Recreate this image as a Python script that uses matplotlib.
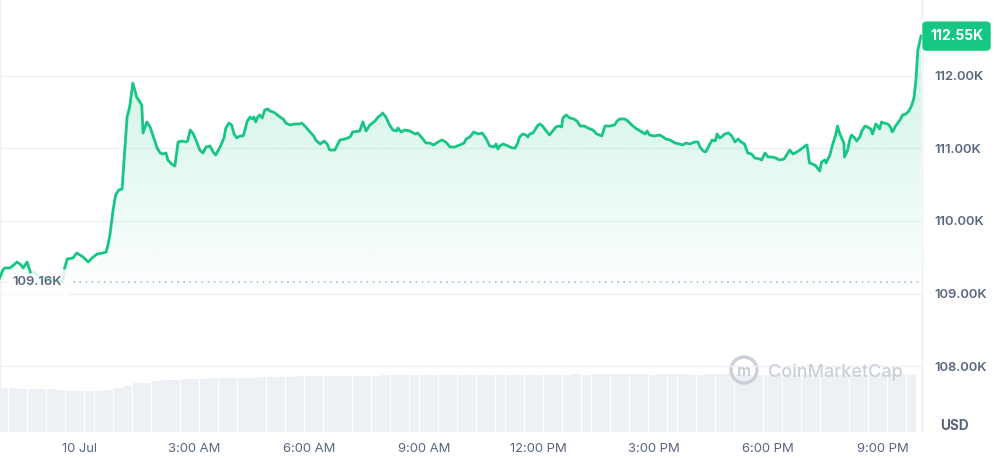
import numpy as np
import matplotlib.pyplot as plt
from matplotlib.patches import Circle
from matplotlib.colors import to_rgb
import matplotlib.transforms as mtransforms

plt.rcParams['font.family'] = ['Inter', 'DejaVu Sans']

# Price data: minutes from 10 Jul 00:00, price in USD
minutes = [
    -126, -121, -118, -110, -104, -99, -94, -89, -83, -78,
    -71, -63, -47, -31, -27, -24, -20, -11, -5, 0,
    5, 13, 19, 27, 36, 41, 44, 47, 52, 56,
    61, 66, 74, 78, 83, 89, 94, 97, 99, 105,
    110, 118, 121, 126, 130, 135, 138, 144, 149, 154,
    160, 166, 169, 173, 177, 182, 188, 193, 198, 204,
    209, 213, 220, 226, 229, 234, 238, 242, 246, 251,
    256, 259, 262, 267, 270, 273, 276, 279, 282, 286,
    290, 295, 298, 303, 306, 314, 319, 323, 330, 337,
    345, 348, 353, 361, 367, 370, 377, 383, 388, 392,
    400, 408, 416, 424, 428, 439, 444, 449, 455, 463,
    468, 474, 475, 480, 486, 491, 497, 499, 504, 510,
    518, 526, 530, 537, 543, 549, 555, 562, 568, 574,
    581, 588, 596, 603, 606, 612, 618, 625, 631, 637,
    643, 650, 653, 656, 659, 664, 672, 678, 683, 687,
    690, 695, 700, 703, 706, 711, 714, 719, 722, 726,
    733, 737, 742, 747, 752, 756, 758, 763, 769, 775,
    780, 785, 792, 797, 805, 811, 819, 824, 832, 839,
    843, 847, 855, 860, 866, 874, 882, 887, 890, 894,
    902, 910, 915, 920, 926, 934, 941, 946, 951, 957,
    965, 970, 973, 978, 982, 987, 992, 997, 1000, 1004,
    1007, 1012, 1018, 1023, 1028, 1033, 1036, 1040, 1043, 1048,
    1054, 1059, 1067, 1070, 1075, 1080, 1086, 1092, 1098, 1105,
    1109, 1114, 1119, 1125, 1130, 1134, 1138, 1141, 1145, 1150,
    1155, 1161, 1164, 1169, 1171, 1177, 1181, 1186, 1189, 1192,
    1199, 1200, 1205, 1208, 1211, 1216, 1219, 1224, 1227, 1232,
    1236, 1241, 1244, 1249, 1252, 1255, 1258, 1261, 1268, 1272,
    1275, 1280, 1287, 1291, 1296, 1301, 1305, 1309, 1312, 1315,
    1320,
]
prices = [
    109214, 109324, 109352, 109352, 109393, 109434, 109407, 109352, 109434, 109297,
    109283, 109228, 109200, 109172, 109159, 109352, 109476, 109490, 109559, 109531,
    109503, 109434, 109490, 109545, 109559, 109572, 109669, 109807, 110152, 110359,
    110428, 110441, 111434, 111572, 111903, 111710, 111641, 111600, 111214, 111366,
    111297, 111090, 111007, 110938, 110924, 110938, 110841, 110786, 110759, 111090,
    111103, 111090, 111103, 111255, 111214, 111117, 110979, 110938, 111021, 111034,
    110952, 110910, 111021, 111145, 111283, 111352, 111324, 111200, 111145, 111172,
    111172, 111255, 111366, 111434, 111407, 111434, 111366, 111434, 111462, 111421,
    111531, 111545, 111517, 111503, 111490, 111434, 111407, 111352, 111324, 111338,
    111338, 111352, 111310, 111228, 111172, 111117, 111062, 111103, 111062, 110979,
    110979, 111117, 111131, 111159, 111228, 111241, 111366, 111241, 111324, 111379,
    111434, 111476, 111490, 111434, 111324, 111255, 111241, 111283, 111228, 111255,
    111241, 111200, 111214, 111145, 111076, 111076, 111048, 111090, 111117, 111090,
    111021, 111021, 111048, 111076, 111131, 111159, 111228, 111200, 111214, 111145,
    111034, 111021, 111062, 110993, 111034, 111062, 111034, 111007, 111007, 111076,
    111159, 111200, 111186, 111159, 111200, 111214, 111255, 111324, 111338, 111310,
    111228, 111186, 111241, 111297, 111310, 111297, 111421, 111462, 111421, 111407,
    111379, 111310, 111310, 111283, 111255, 111200, 111172, 111310, 111310, 111324,
    111379, 111407, 111407, 111379, 111324, 111269, 111228, 111200, 111241, 111186,
    111172, 111186, 111159, 111131, 111117, 111076, 111062, 111048, 111076, 111062,
    111090, 111090, 111021, 110966, 110952, 111034, 111117, 111103, 111200, 111145,
    111159, 111200, 111214, 111172, 111090, 111131, 111103, 111076, 111062, 110938,
    110924, 110869, 110855, 110841, 110938, 110883, 110883, 110869, 110841, 110855,
    110910, 110979, 110924, 110952, 110979, 111007, 111034, 111048, 110800, 110786,
    110759, 110690, 110814, 110841, 110800, 110910, 111048, 111186, 111310, 111214,
    111076, 110883, 110979, 111117, 111186, 111145, 111103, 111159, 111241, 111310,
    111297, 111269, 111200, 111338, 111310, 111269, 111366, 111352, 111338, 111297,
    111228, 111310, 111393, 111462, 111476, 111517, 111586, 111697, 111945, 112359,
    112550,
]
# stretch drawn faint (under the open-price label)
faint_from, faint_to = -78, -24
open_price = 109160

# 24h volume bars, billions USD, every 15 min
vol_minutes = list(range(-120, 1320, 15))
volumes = [
    44.3, 44.3, 44.2, 44.0, 43.6, 43.5, 43.0, 42.2, 42.0, 42.0,
    42.1, 42.3, 44.5, 46.5, 49.8, 50.2, 51.5, 52.6, 53.2, 53.8,
    54.0, 54.3, 54.6, 54.8, 55.0, 55.2, 55.4, 55.7, 56.0, 56.2,
    56.5, 56.7, 56.8, 56.9, 56.9, 57.0, 57.0, 57.1, 57.3, 57.4,
    57.6, 57.7, 57.8, 57.9, 58.0, 58.0, 58.0, 58.1, 58.2, 58.3,
    58.1, 57.9, 58.0, 58.2, 58.3, 58.4, 58.4, 58.5, 58.4, 58.5,
    58.6, 58.5, 58.7, 58.8, 58.8, 58.7, 58.6, 58.6, 58.5, 58.6,
    58.7, 58.6, 58.5, 58.5, 58.6, 58.6, 58.7, 58.6, 58.5, 58.4,
    58.5, 58.6, 58.6, 58.5, 58.4, 58.5, 58.6, 58.6, 58.7, 58.6,
    58.5, 58.6, 58.7, 58.7, 58.6, 58.5,
]

tick_minutes = [0, 180, 360, 540, 720, 900, 1080, 1260]
tick_labels = ['10 Jul', '3:00 AM', '6:00 AM', '9:00 AM', '12:00 PM', '3:00 PM', '6:00 PM', '9:00 PM']
price_ticks = [108000, 109000, 110000, 111000, 112000]

green = '#16c784'
grey_text = '#58667e'
grid_c = '#eff2f5'

fig = plt.figure(figsize=(9.95, 4.58), dpi=100)
rect = [0.0, 0.0568, 0.9266, 0.9432]
vax = fig.add_axes(rect)
ax = fig.add_axes(rect, sharex=vax)
ax.set_zorder(2)
ax.patch.set_visible(False)

# Volume
vax.bar(vol_minutes, volumes, width=14.2, color='#edf0f4', linewidth=0)
vax.set_ylim(0, 440)
vax.axis('off')

x = np.array(minutes)
y = np.array(prices)

# Gradient fill under the line
poly = ax.fill_between(x, y, 108900, color='none', linewidth=0)
rgb = to_rgb(green)
alpha = np.linspace(0.22, 0.0, 256)
grad = np.zeros((256, 1, 4))
grad[:, 0, :3] = rgb
grad[:, 0, 3] = alpha
img = ax.imshow(grad, extent=[x[0], x[-1], 108900, 112600], aspect='auto',
                origin='upper', zorder=1, interpolation='bilinear')
img.set_clip_path(poly.get_paths()[0], transform=ax.transData)

# Open price line and label
ax.axhline(open_price, color='#a6b0c3', lw=1.1, ls=(0, (1, 3)), zorder=2)
ax.text(37 / 922, open_price, f'{open_price / 1000:.2f}K',
        transform=mtransforms.blended_transform_factory(ax.transAxes, ax.transData),
        ha='center', va='center', fontsize=9.4, color=grey_text, fontweight='semibold',
        bbox=dict(boxstyle='square,pad=0.55', fc='white', ec='none', alpha=0.85), zorder=3)

# Price line
solid1 = x <= faint_from
solid2 = x >= faint_to
faint = (x >= faint_from) & (x <= faint_to)
ax.plot(x[solid1], y[solid1], color=green, lw=2.0, zorder=4, solid_joinstyle='round')
ax.plot(x[solid2], y[solid2], color=green, lw=2.0, zorder=4, solid_joinstyle='round')
ax.plot(x[faint], y[faint], color=green, lw=2.0, alpha=0.18, zorder=4)

# Last price tag
ax.text(1 + 8 / 922, prices[-1], f'{prices[-1] / 1000:.2f}K',
        transform=mtransforms.blended_transform_factory(ax.transAxes, ax.transData),
        ha='left', va='center', fontsize=10, color='white', fontweight='bold',
        bbox=dict(boxstyle='round,pad=0.55,rounding_size=0.3', fc=green, ec='none'),
        zorder=6, clip_on=False)

# Axes styling
ax.set_xlim(-125.5, 1321.5)
ax.set_ylim(107090, 113048)
ax.yaxis.tick_right()
ax.set_yticks(price_ticks)
ax.set_yticklabels([f'{v / 1000:.2f}K' for v in price_ticks])
ax.set_xticks(tick_minutes)
ax.set_xticklabels(tick_labels)
ax.tick_params(axis='y', length=0, pad=9, labelsize=9.4, labelcolor=grey_text)
ax.tick_params(axis='x', length=0, pad=8, labelsize=9.4, labelcolor=grey_text)
for lab in ax.get_yticklabels():
    lab.set_fontweight('semibold')
ax.grid(axis='y', color=grid_c, lw=1, zorder=0)
ax.set_axisbelow(True)
for side in ['top', 'bottom']:
    ax.spines[side].set_visible(False)
for side in ['left', 'right']:
    ax.spines[side].set_color('#eceff3')
    ax.spines[side].set_linewidth(1)

fig.text(954 / 995, 1 - 426 / 458, 'USD', ha='center', va='center',
         fontsize=9.8, fontweight='bold', color=grey_text)

# Watermark
fig.patches.append(Circle((7.44, 4.58 - 3.70), 0.13, transform=fig.dpi_scale_trans,
                          fill=False, ec='#cbd0d8', lw=2.4))
fig.text(744 / 995, 1 - 371 / 458, 'm', ha='center', va='center', fontsize=11,
         fontweight='bold', color='#cbd0d8')
fig.text(768 / 995, 1 - 372 / 458, 'CoinMarketCap', ha='left', va='center',
         fontsize=13, fontweight='medium', color='#cbd0d8')

fig.savefig('out.png', dpi=100, facecolor='white')
